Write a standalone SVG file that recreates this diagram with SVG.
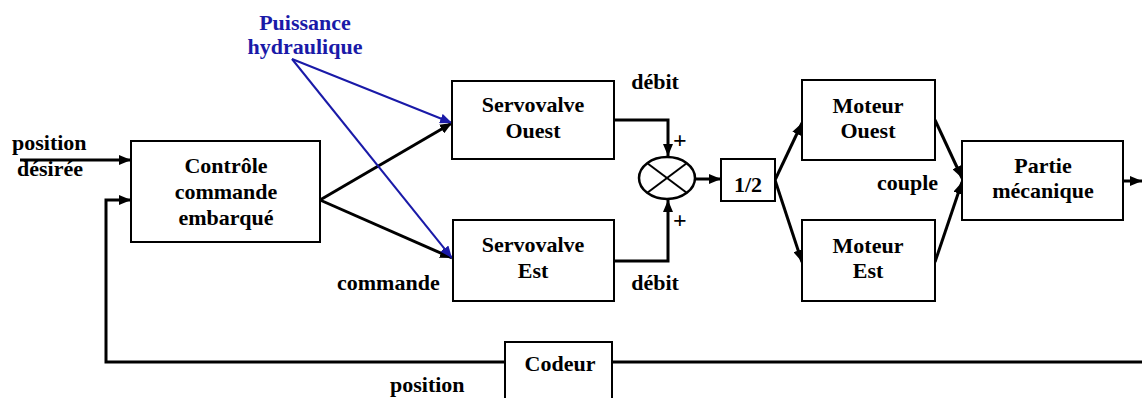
<svg xmlns="http://www.w3.org/2000/svg" width="1142" height="398" viewBox="0 0 1142 398">
<defs>
<marker id="ah" viewBox="0 0 12 10" refX="12" refY="5" markerWidth="12" markerHeight="10" markerUnits="userSpaceOnUse" orient="auto">
<path d="M0,0 L12,5 L0,10 Z" fill="#000"/>
</marker>
<marker id="ahb" viewBox="0 0 12 10" refX="12" refY="5" markerWidth="12" markerHeight="10" markerUnits="userSpaceOnUse" orient="auto">
<path d="M0,0 L12,5 L0,10 Z" fill="#1a1aa8"/>
</marker>
</defs>
<g id="connectors" fill="none" stroke="#000" stroke-width="3">
<line x1="20" y1="160" x2="131" y2="160" marker-end="url(#ah)"/>
<polyline points="1142,362 106,362 106,200 131,200" marker-end="url(#ah)"/>
<line x1="320" y1="200" x2="452" y2="123" marker-end="url(#ah)"/>
<line x1="320" y1="200" x2="452" y2="258" marker-end="url(#ah)"/>
<line x1="292" y1="59" x2="452" y2="123" stroke="#1a1aa8" stroke-width="2" marker-end="url(#ahb)"/>
<line x1="292" y1="59" x2="452" y2="258" stroke="#1a1aa8" stroke-width="2" marker-end="url(#ahb)"/>
<polyline points="614,120 668,120 668,156" marker-end="url(#ah)"/>
<polyline points="614,261 668,261 668,200" marker-end="url(#ah)"/>
<line x1="695" y1="179" x2="721" y2="179" marker-end="url(#ah)"/>
<line x1="775" y1="180" x2="802" y2="123" marker-end="url(#ah)"/>
<line x1="775" y1="180" x2="802" y2="262" marker-end="url(#ah)"/>
<line x1="935" y1="120" x2="962" y2="178" marker-end="url(#ah)"/>
<line x1="935" y1="262" x2="962" y2="182" marker-end="url(#ah)"/>
<line x1="1124" y1="181" x2="1142" y2="181" marker-end="url(#ah)"/>
</g>
<g font-family="Liberation Serif" font-weight="bold" font-size="22" fill="#000">
<g id="controle" text-anchor="middle">
<rect x="131" y="141" width="189" height="101" fill="#fff" stroke="#000" stroke-width="2"/>
<text x="226" y="173">Contrôle</text>
<text x="226" y="199">commande</text>
<text x="226" y="225">embarqué</text>
</g>
<g id="servo-ouest" text-anchor="middle">
<rect x="452" y="81" width="162" height="78" fill="#fff" stroke="#000" stroke-width="2"/>
<text x="533" y="112">Servovalve</text>
<text x="533" y="138">Ouest</text>
</g>
<g id="servo-est" text-anchor="middle">
<rect x="453" y="220" width="161" height="81" fill="#fff" stroke="#000" stroke-width="2"/>
<text x="533" y="252">Servovalve</text>
<text x="533" y="278">Est</text>
</g>
<g id="sommateur">
<ellipse cx="667" cy="178" rx="28" ry="21" fill="#fff" stroke="#000" stroke-width="2.5"/>
<line x1="647" y1="163" x2="687" y2="193" stroke="#000" stroke-width="2"/>
<line x1="647" y1="193" x2="687" y2="163" stroke="#000" stroke-width="2"/>
</g>
<g id="demi" text-anchor="middle">
<rect x="721" y="159" width="54" height="42" fill="#fff" stroke="#000" stroke-width="2"/>
<text x="748" y="192">1/2</text>
</g>
<g id="moteur-ouest" text-anchor="middle">
<rect x="802" y="80" width="133" height="80" fill="#fff" stroke="#000" stroke-width="2"/>
<text x="868" y="113">Moteur</text>
<text x="868" y="138">Ouest</text>
</g>
<g id="moteur-est" text-anchor="middle">
<rect x="802" y="220" width="133" height="81" fill="#fff" stroke="#000" stroke-width="2"/>
<text x="868" y="253">Moteur</text>
<text x="868" y="278">Est</text>
</g>
<g id="partie" text-anchor="middle">
<rect x="962" y="141" width="161" height="79" fill="#fff" stroke="#000" stroke-width="2"/>
<text x="1043" y="173">Partie</text>
<text x="1043" y="198">mécanique</text>
</g>
<g id="codeur" text-anchor="middle">
<rect x="505" y="342" width="107" height="70" fill="#fff" stroke="#000" stroke-width="2"/>
<text x="560" y="371">Codeur</text>
</g>
<g id="labels">
<text x="12" y="150">position</text>
<text x="17" y="176">désirée</text>
<text text-anchor="middle" x="305" y="30" fill="#1a1aa8">Puissance</text>
<text text-anchor="middle" x="305" y="54" fill="#1a1aa8">hydraulique</text>
<text text-anchor="middle" x="655" y="89">débit</text>
<text text-anchor="middle" x="655" y="290">débit</text>
<text x="337" y="290">commande</text>
<text x="673" y="148" font-size="24">+</text>
<text x="673" y="228" font-size="24">+</text>
<text x="877" y="190">couple</text>
<text x="390" y="392">position</text>
</g>
</g>
</svg>
